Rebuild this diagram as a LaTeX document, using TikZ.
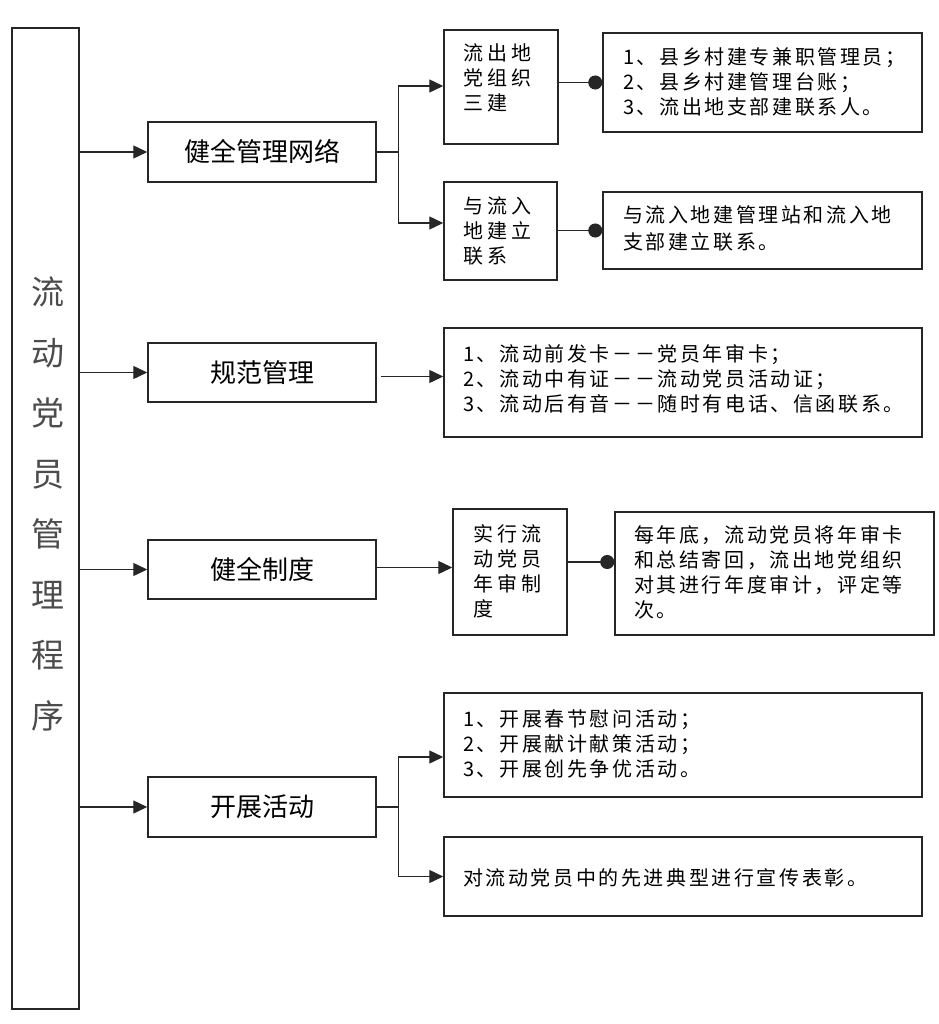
\documentclass[tikz,border=0pt]{standalone}
\usepackage{fontspec}
\setmainfont{Noto Sans CJK SC}
\newfontfamily\spacedA[LetterSpace=13]{Noto Sans CJK SC}
\newfontfamily\spacedB[LetterSpace=21]{Noto Sans CJK SC}
\usetikzlibrary{arrows.meta,fit}
\newcommand{\mysmall}{\spacedA\fontsize{20}{25}\selectfont}
\newcommand{\mynarrow}{\spacedB\fontsize{20}{25}\selectfont}
\newcommand{\mybig}{\fontsize{26}{30}\selectfont}
\newcommand{\mytitle}{\fontsize{33}{60.5}\selectfont}
\begin{document}
\begin{tikzpicture}[x=1pt,y=-1pt,
  boxst/.style={draw=black!85, line width=1.5pt, inner sep=0pt},
  conn/.style={draw=black!85, line width=1.4pt},
  arr/.style={-{Triangle[length=14pt,width=13pt]}},
  dotc/.style={-{Circle[length=14pt]}},
  txt/.style={anchor=north west, align=left, inner sep=0pt, font=\mysmall},
  ntxt/.style={anchor=north west, align=left, inner sep=0pt, font=\mynarrow},
  main/.style={font=\mybig, inner sep=0pt, text height=0.88em, text depth=0.12em}]
\useasboundingbox[fill=white] (0,0) rectangle (938,1024);

% left title box
\node[boxst, fit={(12,28)(79,1009)}] (title) {};
\node[align=center, inner sep=0pt, font=\mytitle, text=black!70] (ttext) at (48,504)
  {流\\动\\党\\员\\管\\理\\程\\序};

% level-1 boxes
\node[boxst, fit={(148,122)(376,182)}] (net) {};
\node[main] (nett) at ([yshift=-6pt]net.center) {健全管理网络};
\node[boxst, fit={(148,343)(376,402)}] (gf) {};
\node[main] (gft) at ([yshift=-6pt]gf.center) {规范管理};
\node[boxst, fit={(148,540)(376,599)}] (zd) {};
\node[main] (zdt) at ([yshift=-6pt]zd.center) {健全制度};
\node[boxst, fit={(148,777)(376,837)}] (kz) {};
\node[main] (kzt) at ([yshift=-6pt]kz.center) {开展活动};

% level-2 boxes
\node[boxst, fit={(444,30)(558,144)}] (b1) {};
\node[ntxt] (b1t) at (463,44) {流出地\\党组织\\三建};
\node[boxst, fit={(603,33)(922,132)}] (d1) {};
\node[txt] (d1t) at (623,47) {1、县乡村建专兼职管理员；\\2、县乡村建管理台账；\\3、流出地支部建联系人。};

\node[boxst, fit={(444,182)(557,280)}] (b2) {};
\node[ntxt] (b2t) at (463,196) {与流入\\地建立\\联系};
\node[boxst, fit={(603,192)(922,269)}] (d2) {};
\node[txt, font=\spacedA\fontsize{20}{27}\selectfont] (d2t) at (623,205) {与流入地建管理站和流入地\\支部建立联系。};

\node[boxst, fit={(444,328)(922,437)}] (gfd) {};
\node[txt] (gfdt) at (463,344) {1、流动前发卡－－党员年审卡；\\2、流动中有证－－流动党员活动证；\\3、流动后有音－－随时有电话、信函联系。};

\node[boxst, fit={(453,509)(567,635)}] (sx) {};
\node[ntxt] (sxt) at (473,524) {实行流\\动党员\\年审制\\度};
\node[boxst, fit={(615,512)(934,635)}] (sxd) {};
\node[txt] (sxdt) at (634,525) {每年底，流动党员将年审卡\\和总结寄回，流出地党组织\\对其进行年度审计，评定等\\次。};

\node[boxst, fit={(444,693)(922,797)}] (k1) {};
\node[txt] (k1t) at (463,709) {1、开展春节慰问活动；\\2、开展献计献策活动；\\3、开展创先争优活动。};
\node[boxst, fit={(444,837)(922,916)}] (k2) {};
\node[txt, anchor=west] (k2t) at (463,878) {对流动党员中的先进典型进行宣传表彰。};

% connectors
\draw[conn,arr] (net.west -| title.east) -- (net.west);
\coordinate (j1) at ([xshift=22pt]net.east);
\draw[conn,arr] (net.east) -- (j1) |- ([yshift=1pt]b1.west);
\draw[conn,arr] (j1) |- ([yshift=8pt]b2.west);
\draw[conn,dotc] (b1.east |- d1.west) -- (d1.west);
\draw[conn,dotc] (b2.east |- d2.west) -- (d2.west);

\draw[conn,arr] (gf.west -| title.east) -- (gf.west);
\draw[conn,arr] ([xshift=4pt,yshift=-4pt]gf.east) -- ([yshift=-4pt]gf.east -| gfd.west);

\draw[conn,arr] (zd.west -| title.east) -- (zd.west);
\draw[conn,arr] ([yshift=2pt]zd.east) -- ([yshift=2pt]zd.east -| sx.west);
\draw[conn,dotc] ([yshift=10pt]sx.east) -- ([yshift=10pt]sx.east -| sxd.west);

\draw[conn,arr] (kz.west -| title.east) -- (kz.west);
\coordinate (j2) at ([xshift=22pt]kz.east);
\draw[conn,arr] (kz.east) -- (j2) |- ([yshift=-12pt]k1.west);
\draw[conn,arr] (j2) |- (k2.west);
\end{tikzpicture}
\end{document}
